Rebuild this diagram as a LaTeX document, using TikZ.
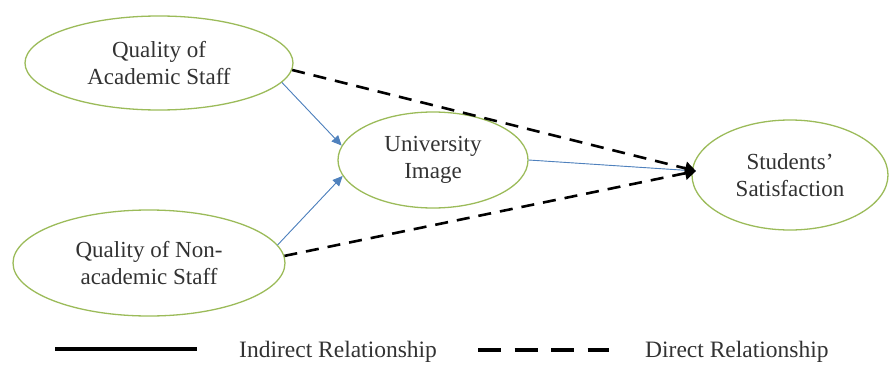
\documentclass[tikz,border=0pt]{standalone}
\usepackage{fontspec}
\setmainfont{Liberation Serif}
\usetikzlibrary{shapes.geometric,arrows.meta}
\definecolor{ellgreen}{RGB}{155,187,89}
\definecolor{arrblue}{RGB}{79,129,189}
\definecolor{txtgray}{RGB}{50,50,50}
\tikzset{
  construct/.style={ellipse, draw=ellgreen, line width=1.3pt, inner sep=0pt,
    align=center, text=txtgray, font=\fontsize{23}{27.5}\selectfont},
  indirect/.style={draw=arrblue, line width=0.9pt, -{Triangle[length=10pt,width=9pt]}, fill=arrblue},
  direct/.style={draw=black, line width=2.6pt, dash pattern=on 13pt off 9pt, -{Triangle[length=11pt,width=13pt]}},
  legtext/.style={anchor=west, text=txtgray, font=\fontsize{23.5}{27}\selectfont, inner sep=0pt},
}
\begin{document}
\begin{tikzpicture}[x=1pt,y=-1pt]
\useasboundingbox (0,0) rectangle (892,367);
\node[construct, minimum width=268pt, minimum height=94pt] (A) at (159,63) {Quality of\\Academic Staff};
\node[construct, minimum width=272pt, minimum height=106pt] (B) at (149,263) {Quality of Non-\\academic Staff};
\node[construct, minimum width=190pt, minimum height=96pt] (U) at (433,160) {University\\Image};
\node[construct, minimum width=196pt, minimum height=110pt] (S) at (790,175) {Students'\\Satisfaction};
\coordinate (t) at (696,171);
\draw[indirect] (A.-9) -- (U.171);
\draw[indirect] (B.8) -- (U.190);
\draw[indirect] (U.east) -- (t);
\draw[direct] (A.-3) -- (t);
\draw[direct] (B.3) -- (t);
% legend
\coordinate (l1a) at (55,349);
\coordinate (l1b) at (197,349);
\draw[line width=4pt] (l1a) -- (l1b);
\node[legtext] (lt1) at (239,352) {Indirect Relationship};
\coordinate (l2a) at (478,350);
\coordinate (l2b) at (609,350);
\draw[line width=4.5pt, dash pattern=on 23pt off 13.5pt] (l2a) -- (l2b);
\node[legtext] (lt2) at (645,352) {Direct Relationship};
\end{tikzpicture}
\end{document}
